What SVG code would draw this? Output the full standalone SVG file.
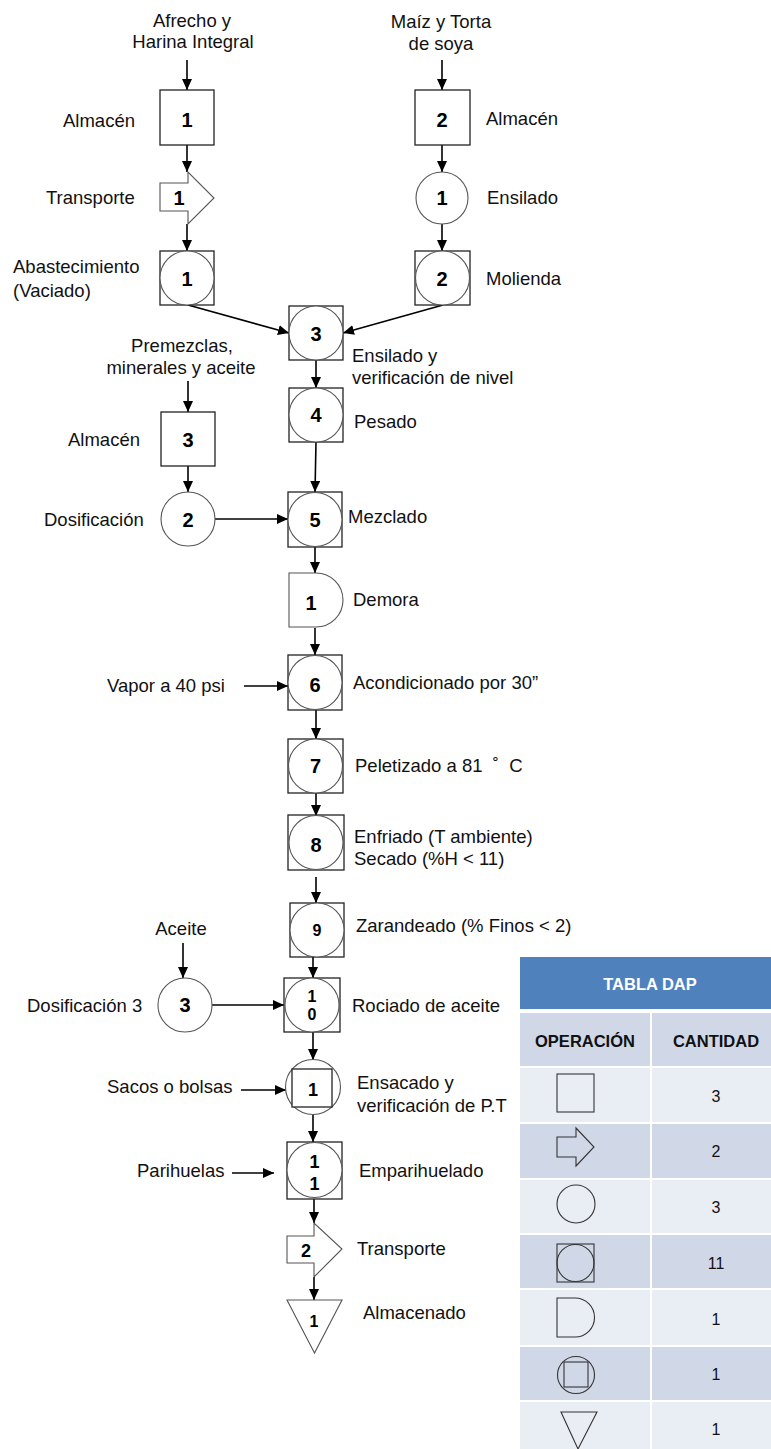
<svg xmlns="http://www.w3.org/2000/svg" width="771" height="1449" viewBox="0 0 771 1449">
<style>
.sq{fill:#fff;stroke:#222;stroke-width:1.3}
.ci{fill:#fff;stroke:#555;stroke-width:1.1}
.ic{fill:none;stroke:#333;stroke-width:1.1}
.num{font-family:'Liberation Sans',Arial,sans-serif;font-weight:bold;font-size:20px;text-anchor:middle;fill:#000}
.sm{font-size:16px}
.md{font-size:18px}
.lbl{font-family:'Liberation Sans',Arial,sans-serif;font-size:18.5px;fill:#111}
.c{text-anchor:middle}
.conn{stroke:#000;stroke-width:1.6;fill:none;marker-end:url(#ah)}
.th{font-family:'Liberation Sans',Arial,sans-serif;font-weight:bold;font-size:16.5px;text-anchor:middle;fill:#111}
.tv{font-family:'Liberation Sans',Arial,sans-serif;font-size:16px;text-anchor:middle;fill:#111}
.dk{fill:#d0d8e8}
.lt{fill:#e9edf4}
</style>
<defs>
<marker id="ah" markerUnits="userSpaceOnUse" markerWidth="11" markerHeight="10" refX="11" refY="5" orient="auto">
<path d="M0,0 L11,5 L0,10 Z" fill="#000"/>
</marker>
</defs>

<g id="connectors">
<line class="conn" x1="187" y1="60" x2="187" y2="90"/>
<line class="conn" x1="187" y1="145" x2="187" y2="172"/>
<line class="conn" x1="187" y1="224" x2="187" y2="251"/>
<line class="conn" x1="442" y1="60" x2="442" y2="90"/>
<line class="conn" x1="442" y1="145" x2="442" y2="172"/>
<line class="conn" x1="442" y1="224" x2="442" y2="251"/>
<line class="conn" x1="188" y1="305" x2="289" y2="333"/>
<line class="conn" x1="443" y1="305" x2="343" y2="333"/>
<line class="conn" x1="316" y1="360" x2="316" y2="388"/>
<line class="conn" x1="188" y1="381" x2="188" y2="412"/>
<line class="conn" x1="188" y1="466" x2="188" y2="492"/>
<line class="conn" x1="316" y1="442" x2="315" y2="492"/>
<line class="conn" x1="215" y1="519" x2="288" y2="519"/>
<line class="conn" x1="315" y1="547" x2="315" y2="573"/>
<line class="conn" x1="315" y1="628" x2="315" y2="655"/>
<line class="conn" x1="244" y1="686" x2="288" y2="686"/>
<line class="conn" x1="316" y1="710" x2="316" y2="739"/>
<line class="conn" x1="316" y1="793" x2="316" y2="816"/>
<line class="conn" x1="316" y1="877" x2="316" y2="903"/>
<line class="conn" x1="183" y1="943" x2="183" y2="978"/>
<line class="conn" x1="212" y1="1005" x2="284" y2="1005"/>
<line class="conn" x1="313" y1="957" x2="313" y2="978"/>
<line class="conn" x1="313" y1="1032" x2="313" y2="1060"/>
<line class="conn" x1="241" y1="1090" x2="286" y2="1090"/>
<line class="conn" x1="313" y1="1115" x2="313" y2="1142"/>
<line class="conn" x1="232" y1="1173" x2="274" y2="1173"/>
<line class="conn" x1="314" y1="1199" x2="314" y2="1223"/>
<line class="conn" x1="314" y1="1277" x2="314" y2="1300"/>
</g>

<g id="in-afrecho"><text class="lbl c" x="192" y="27">Afrecho y</text><text class="lbl c" x="193" y="48">Harina Integral</text></g>
<g id="in-maiz"><text class="lbl c" x="441" y="28">Maíz y Torta</text><text class="lbl c" x="441" y="50">de soya</text></g>

<g id="almacen1"><rect class="sq" x="160" y="90" width="54" height="55"/><text class="num" x="187" y="127">1</text><text class="lbl" x="63" y="127">Almacén</text></g>
<g id="transporte1"><path class="ci" d="M160,183 H188 V172 L214,198 L188,224 V211 H160 Z"/><text class="num" x="179" y="205">1</text><text class="lbl" x="46" y="204">Transporte</text></g>
<g id="abastecimiento1"><rect class="sq" x="160" y="251" width="54" height="54"/><circle class="ci" cx="187" cy="278" r="27"/><text class="num" x="187" y="286">1</text><text class="lbl" x="13" y="273">Abastecimiento</text><text class="lbl" x="13" y="297">(Vaciado)</text></g>

<g id="almacen2"><rect class="sq" x="415" y="90" width="55" height="55"/><text class="num" x="442" y="127">2</text><text class="lbl" x="486" y="125">Almacén</text></g>
<g id="ensilado1"><circle class="ci" cx="442" cy="198" r="26"/><text class="num" x="442" y="205">1</text><text class="lbl" x="487" y="204">Ensilado</text></g>
<g id="molienda2"><rect class="sq" x="415" y="251" width="55" height="54"/><circle class="ci" cx="442.5" cy="278" r="27"/><text class="num" x="442" y="286">2</text><text class="lbl" x="486" y="285">Molienda</text></g>

<g id="op3"><rect class="sq" x="289" y="306" width="54" height="54"/><circle class="ci" cx="316" cy="333" r="27"/><text class="num" x="316" y="341">3</text><text class="lbl" x="352" y="362">Ensilado y</text><text class="lbl" x="352" y="384">verificación de nivel</text></g>
<g id="in-premezclas"><text class="lbl c" x="182" y="352">Premezclas,</text><text class="lbl c" x="181" y="374">minerales y aceite</text></g>
<g id="op4"><rect class="sq" x="289" y="388" width="54" height="54"/><circle class="ci" cx="316" cy="415" r="27"/><text class="num" x="316" y="422">4</text><text class="lbl" x="354" y="428">Pesado</text></g>
<g id="almacen3"><rect class="sq" x="161" y="412" width="54" height="54"/><text class="num" x="188" y="447">3</text><text class="lbl" x="68" y="446">Almacén</text></g>
<g id="dosificacion2"><circle class="ci" cx="188" cy="519" r="27"/><text class="num" x="188" y="527">2</text><text class="lbl" x="44" y="526">Dosificación</text></g>
<g id="op5"><rect class="sq" x="288" y="492" width="54" height="55"/><circle class="ci" cx="315" cy="519.5" r="27"/><text class="num" x="315" y="527">5</text><text class="lbl" x="348" y="523">Mezclado</text></g>
<g id="demora1"><path class="ci" d="M289,573 H316 A27,27 0 0 1 316,627 H289 Z"/><text class="num" x="311" y="610">1</text><text class="lbl" x="353" y="606">Demora</text></g>
<g id="op6"><rect class="sq" x="288" y="655" width="54" height="55"/><circle class="ci" cx="315" cy="682.5" r="27"/><text class="num" x="315" y="692">6</text><text class="lbl" x="107" y="692">Vapor a 40 psi</text><text class="lbl" x="353" y="689">Acondicionado por 30”</text></g>
<g id="op7"><rect class="sq" x="288" y="739" width="55" height="54"/><circle class="ci" cx="315.5" cy="766" r="27"/><text class="num" x="315.5" y="773">7</text><text class="lbl" x="355" y="772">Peletizado a 81&#160; ˚ &#160;C</text></g>
<g id="op8"><rect class="sq" x="288" y="815" width="56" height="55"/><circle class="ci" cx="316" cy="842.5" r="27"/><text class="num" x="316" y="852">8</text><text class="lbl" x="354" y="843">Enfriado (T ambiente)</text><text class="lbl" x="354" y="865">Secado (%H &lt; 11)</text></g>
<g id="op9"><rect class="sq" x="290" y="903" width="54" height="54"/><circle class="ci" cx="317" cy="930" r="27"/><text class="num sm" x="317" y="936">9</text><text class="lbl" x="356" y="932">Zarandeado (% Finos &lt; 2)</text></g>
<g id="in-aceite"><text class="lbl c" x="181" y="935">Aceite</text></g>
<g id="dosificacion3"><circle class="ci" cx="185" cy="1005" r="27"/><text class="num" x="185" y="1012">3</text><text class="lbl" x="27" y="1012">Dosificación 3</text></g>
<g id="op10"><rect class="sq" x="284" y="978" width="56" height="54"/><circle class="ci" cx="312" cy="1005" r="27"/><text class="num sm" x="312" y="1002">1</text><text class="num sm" x="312" y="1020">0</text><text class="lbl" x="352" y="1012">Rociado de aceite</text></g>
<g id="combinada1"><circle class="ci" cx="313" cy="1087" r="27.5"/><rect class="sq" x="292" y="1069" width="40" height="38"/><text class="num md" x="313" y="1096">1</text><text class="lbl" x="107" y="1093">Sacos o bolsas</text><text class="lbl" x="357" y="1089">Ensacado y</text><text class="lbl" x="357" y="1112">verificación de P.T</text></g>
<g id="op11"><rect class="sq" x="287" y="1142" width="55" height="57"/><circle class="ci" cx="314.5" cy="1170" r="27.5"/><text class="num md" x="314.5" y="1168">1</text><text class="num md" x="314.5" y="1190">1</text><text class="lbl" x="137" y="1177">Parihuelas</text><text class="lbl" x="359" y="1177">Emparihuelado</text></g>
<g id="transporte2"><path class="ci" d="M287,1236 H314 V1223 L342,1249 L314,1277 V1263 H287 Z"/><text class="num md" x="306" y="1257">2</text><text class="lbl" x="357" y="1255">Transporte</text></g>
<g id="almacenado1"><polygon class="ci" points="287,1300 342,1300 314.5,1353"/><text class="num sm" x="314" y="1327">1</text><text class="lbl" x="363" y="1319">Almacenado</text></g>

<g id="tabla-dap">
<rect x="520" y="957" width="251" height="52" fill="#4f81bd"/>
<text class="th" x="650" y="990" style="fill:#fff">TABLA DAP</text>
<rect class="dk" x="520" y="1013" width="130" height="53"/><rect class="dk" x="652" y="1013" width="119" height="53"/>
<text class="th" x="585" y="1047">OPERACIÓN</text><text class="th" x="716" y="1047">CANTIDAD</text>
<rect class="lt" x="520" y="1068" width="130" height="54"/><rect class="lt" x="652" y="1068" width="119" height="54"/>
<rect class="ic" x="557" y="1074" width="37" height="38"/><text class="tv" x="716" y="1102">3</text>
<rect class="dk" x="520" y="1124" width="130" height="54"/><rect class="dk" x="652" y="1124" width="119" height="54"/>
<path class="ic" d="M557,1137 H576 V1128 L594,1147 L576,1166 V1157 H557 Z"/><text class="tv" x="716" y="1157">2</text>
<rect class="lt" x="520" y="1180" width="130" height="53"/><rect class="lt" x="652" y="1180" width="119" height="53"/>
<circle class="ic" cx="576" cy="1204" r="19"/><text class="tv" x="716" y="1213">3</text>
<rect class="dk" x="520" y="1235" width="130" height="53"/><rect class="dk" x="652" y="1235" width="119" height="53"/>
<rect class="ic" x="557" y="1244" width="37" height="38"/><circle class="ic" cx="575.5" cy="1263" r="18.5"/><text class="tv" x="716" y="1269">11</text>
<rect class="lt" x="520" y="1290" width="130" height="55"/><rect class="lt" x="652" y="1290" width="119" height="55"/>
<path class="ic" d="M557,1298 H575 A19.5,19.5 0 0 1 575,1337 H557 Z"/><text class="tv" x="716" y="1325">1</text>
<rect class="dk" x="520" y="1347" width="130" height="53"/><rect class="dk" x="652" y="1347" width="119" height="53"/>
<circle class="ic" cx="576" cy="1375" r="18.5"/><rect class="ic" x="564" y="1362" width="24" height="25"/><text class="tv" x="716" y="1380">1</text>
<rect class="lt" x="520" y="1402" width="130" height="47"/><rect class="lt" x="652" y="1402" width="119" height="47"/>
<polygon class="ic" points="561,1412 597,1412 578,1449"/><text class="tv" x="716" y="1435">1</text>
</g>
</svg>
